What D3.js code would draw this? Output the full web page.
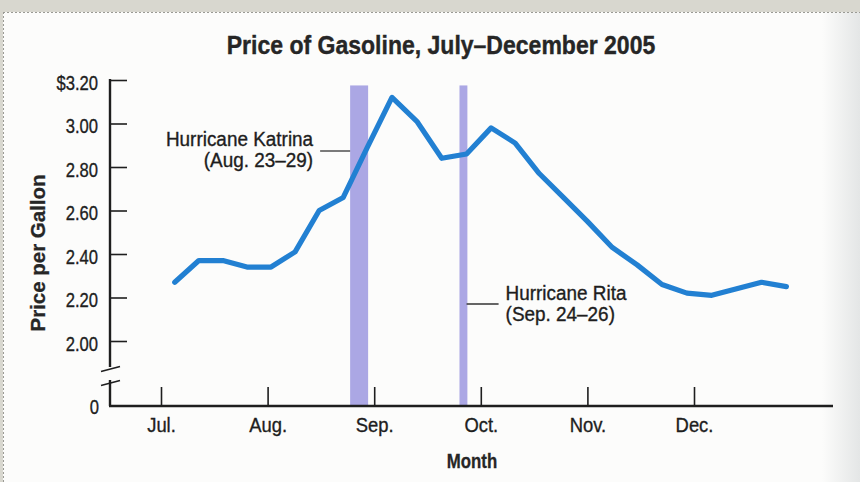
<!DOCTYPE html>
<html><head><meta charset="utf-8">
<script src="https://cdn.jsdelivr.net/npm/d3@7"></script>
<style>
body{margin:0;background:#d8d7cf;}
svg{display:block;font-family:"Liberation Sans",Arial,sans-serif;}
</style>
</head><body>
<svg id="c" width="860" height="482"></svg>
<script>
// ---- data ----
const weekDates = ["2005-07-05","2005-07-12","2005-07-19","2005-07-26","2005-08-02","2005-08-09","2005-08-16","2005-08-23","2005-08-30",
  "2005-09-06","2005-09-13","2005-09-20","2005-09-27","2005-10-04","2005-10-11","2005-10-18","2005-10-25",
  "2005-11-01","2005-11-08","2005-11-15","2005-11-22","2005-11-29","2005-12-06","2005-12-13","2005-12-20","2005-12-27"];
const prices = [2.27,2.37,2.37,2.34,2.34,2.41,2.60,2.66,2.89,3.12,3.01,2.84,2.86,2.98,2.91,2.77,2.66,
  2.55,2.43,2.35,2.26,2.22,2.21,2.24,2.27,2.25];
const priceTicks = [2.00,2.20,2.40,2.60,2.80,3.00,3.20];
const monthStarts = ["2005-07-01","2005-08-01","2005-09-01","2005-10-01","2005-11-01","2005-12-01"];
const monthLabels = ["Jul.","Aug.","Sep.","Oct.","Nov.","Dec."];
const hurricaneNames = ["Hurricane Katrina","Hurricane Rita"];
const hurricaneDates = ["(Aug. 23\u201329)","(Sep. 24\u201326)"];
const bandStarts = ["2005-08-25","2005-09-25"];
const bandEnds = ["2005-08-30","2005-09-27"];

// ---- layout ----
const W = 860, H = 482;
const axisX = 110, axisRight = 833, baseY = 406, breakTopY = 367, breakBotY = 380;
const firstMonthX = 161, monthStep = 106.6;
const ink = "#1e1e1e";
const parse = d3.timeParse("%Y-%m-%d");

const svg = d3.select("#c");

// background panel
const defs = svg.append("defs");
const g1 = defs.append("linearGradient").attr("id","fade").attr("x1","0").attr("x2","1");
g1.append("stop").attr("offset","0").attr("stop-color","#fcfcfb");
g1.append("stop").attr("offset","1").attr("stop-color","#e4e6e6");
svg.append("rect").attr("width",W).attr("height",H).attr("fill","#d8d7cf");
svg.append("rect").attr("x",3).attr("y",12).attr("width",W-3).attr("height",H-12).attr("fill","#fcfcfb");
svg.append("rect").attr("x",822).attr("y",12).attr("width",38).attr("height",H-12).attr("fill","url(#fade)");
svg.append("line").attr("x1",3).attr("x2",W).attr("y1",12.5).attr("y2",12.5)
  .attr("stroke","#9a9a94").attr("stroke-dasharray","2,2");
svg.append("line").attr("x1",3.5).attr("x2",3.5).attr("y1",12).attr("y2",H)
  .attr("stroke","#9a9a94").attr("stroke-dasharray","2,2");

// scales
const mDates = monthStarts.map(parse);
const x = d3.scaleTime().domain(mDates).range(mDates.map((d,i)=>firstMonthX + i*monthStep));
const y = d3.scaleLinear().domain([2.0,3.2]).range([341,80]);

function condense(sel, f){
  sel.each(function(){
    const w = this.getComputedTextLength();
    this.setAttribute("textLength", w*f);
    this.setAttribute("lengthAdjust","spacingAndGlyphs");
  });
}
function inked(sel){ sel.attr("fill",ink).attr("stroke",ink).attr("stroke-width",0.35); }

// hurricane bands
const bands = bandStarts.map((s,i)=>({s:parse(s), e:parse(bandEnds[i])}));
svg.append("g").selectAll("rect").data(bands).join("rect")
  .attr("x", d=>x(d.s)).attr("width", d=>x(d.e)-x(d.s)+0.8)
  .attr("y", y(3.175)).attr("height", baseY - y(3.175))
  .attr("fill","#aba7e4");

// y axis
const yAxis = d3.axisLeft(y).tickValues(priceTicks)
  .tickFormat(d => d===3.2 ? "$3.20" : d3.format(".2f")(d))
  .tickSize(-17).tickPadding(12);
const gy = svg.append("g").attr("transform",`translate(${axisX},0)`).call(yAxis);
gy.select(".domain").remove();
gy.selectAll(".tick line").attr("stroke",ink).attr("stroke-width",1.6);
gy.selectAll(".tick text").attr("font-size",20).attr("dy","0.47em")
  .attr("font-family","'Liberation Sans',Arial,sans-serif").call(inked).call(condense,0.83);

// y axis lines with break
svg.append("line").attr("x1",axisX).attr("x2",axisX).attr("y1",y(3.2)-1).attr("y2",breakTopY)
  .attr("stroke",ink).attr("stroke-width",2.4);
svg.append("line").attr("x1",axisX).attr("x2",axisX).attr("y1",breakBotY).attr("y2",baseY)
  .attr("stroke",ink).attr("stroke-width",2.4);
[breakTopY+2, breakBotY+3].forEach(by=>{
  svg.append("line").attr("x1",axisX-9).attr("x2",axisX+10).attr("y1",by+2.5).attr("y2",by-2.5)
    .attr("stroke",ink).attr("stroke-width",1.6);
});
svg.append("text").attr("x",axisX-11).attr("y",baseY+7.5).attr("text-anchor","end")
  .attr("font-size",20).text("0").call(inked).call(condense,0.83);

// x axis
const xAxis = d3.axisBottom(x).tickValues(mDates)
  .tickFormat((d,i)=>monthLabels[i]).tickSize(-19).tickPadding(12);
const gx = svg.append("g").attr("transform",`translate(0,${baseY})`).call(xAxis);
gx.select(".domain").remove();
gx.selectAll(".tick line").attr("stroke",ink).attr("stroke-width",1.6);
gx.selectAll(".tick text").attr("font-size",20)
  .attr("font-family","'Liberation Sans',Arial,sans-serif").call(inked).call(condense,0.92);
svg.append("line").attr("x1",axisX-1).attr("x2",axisRight).attr("y1",baseY).attr("y2",baseY)
  .attr("stroke",ink).attr("stroke-width",2.6);

// price line
const pts = weekDates.map((d,i)=>({d:parse(d), v:prices[i]}));
svg.append("path").datum(pts)
  .attr("d", d3.line().x(d=>x(d.d)).y(d=>y(d.v)))
  .attr("fill","none").attr("stroke","#2280d2").attr("stroke-width",5.2)
  .attr("stroke-linejoin","round").attr("stroke-linecap","round");

// annotations
const kx = x(bands[0].s);
svg.append("line").attr("x1",kx-30).attr("x2",kx).attr("y1",151).attr("y2",151)
  .attr("stroke","#333").attr("stroke-width",1.3);
svg.append("text").attr("x",kx-37).attr("y",146).attr("text-anchor","end")
  .attr("font-size",19.5).text(hurricaneNames[0]).call(inked).call(condense,0.97);
svg.append("text").attr("x",kx-37).attr("y",167).attr("text-anchor","end")
  .attr("font-size",19.5).text(hurricaneDates[0]).call(inked).call(condense,0.97);
const rx = x(bands[1].e);
svg.append("line").attr("x1",rx).attr("x2",rx+32).attr("y1",304).attr("y2",304)
  .attr("stroke","#333").attr("stroke-width",1.3);
svg.append("text").attr("x",rx+39).attr("y",299.5)
  .attr("font-size",19.5).text(hurricaneNames[1]).call(inked).call(condense,0.97);
svg.append("text").attr("x",rx+39).attr("y",321)
  .attr("font-size",19.5).text(hurricaneDates[1]).call(inked).call(condense,0.97);

// titles
svg.append("text").attr("x",441).attr("y",53.5).attr("text-anchor","middle")
  .attr("font-size",26).attr("font-weight","bold").attr("fill","#262626")
  .attr("stroke","#262626").attr("stroke-width",0.4)
  .text("Price of Gasoline, July\u2013December 2005").call(condense,0.885);
svg.append("text").attr("x",472).attr("y",468).attr("text-anchor","middle")
  .attr("font-size",20).attr("font-weight","bold").attr("fill","#262626")
  .attr("stroke","#262626").attr("stroke-width",0.3)
  .text("Month").call(condense,0.84);
svg.append("text").attr("transform","translate(45,253) rotate(-90)").attr("text-anchor","middle")
  .attr("font-size",21).attr("font-weight","bold").attr("fill","#262626")
  .attr("stroke","#262626").attr("stroke-width",0.3)
  .text("Price per Gallon").call(condense,0.975);
</script>
</body></html>
